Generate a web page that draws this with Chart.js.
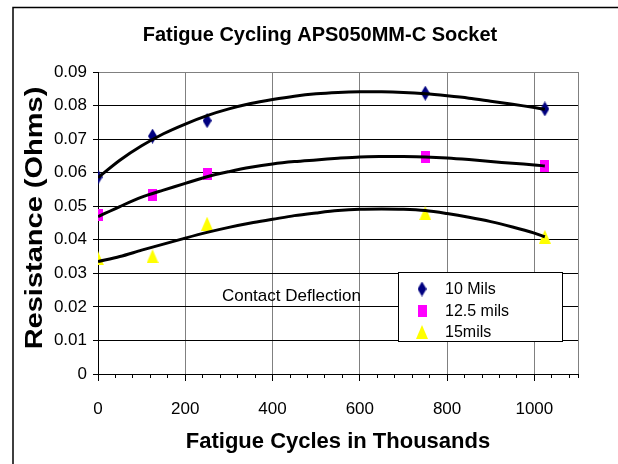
<!DOCTYPE html>
<html>
<head>
<meta charset="utf-8">
<script src="https://cdn.jsdelivr.net/npm/chart.js@4.4.1/dist/chart.umd.min.js"></script>
<style>
  html, body { margin: 0; padding: 0; background: #fff; }
  #wrap { width: 618px; height: 464px; }
</style>
</head>
<body>
<div id="wrap"><canvas id="fatigueChart" width="618" height="464"></canvas></div>
<script>
// measured points (fatigue cycles in thousands, resistance in ohms)
const cycles   = [0, 125, 250, 750, 1024];
const mils10   = [0.0587, 0.0709, 0.0755, 0.0837, 0.0790];
const mils125  = [0.0475, 0.0532, 0.0597, 0.0647, 0.0621];
const mils15   = [0.0345, 0.0351, 0.0448, 0.0479, 0.0409];

// trend lines
const trendCycles = [0, 50, 100, 150, 200, 250, 300, 350, 400, 450, 500, 550, 600, 650, 700, 750, 800, 850, 900, 950, 1000, 1024];
const trend10  = [0.0585, 0.0637, 0.0680, 0.0716, 0.0745, 0.0770, 0.0790, 0.0806, 0.0818, 0.0828, 0.0835, 0.0839, 0.0841, 0.0841, 0.0839, 0.0835, 0.0829, 0.0822, 0.0813, 0.0804, 0.0794, 0.0789];
const trend125 = [0.0469, 0.0499, 0.0527, 0.0548, 0.0568, 0.0588, 0.0603, 0.0616, 0.0626, 0.0633, 0.0638, 0.0643, 0.0647, 0.0648, 0.0648, 0.0647, 0.0644, 0.0639, 0.0633, 0.0628, 0.0623, 0.0620];
const trend15  = [0.0335, 0.0350, 0.0369, 0.0387, 0.0405, 0.0422, 0.0437, 0.0450, 0.0461, 0.0472, 0.0480, 0.0487, 0.0491, 0.0492, 0.0491, 0.0487, 0.0478, 0.0467, 0.0454, 0.0438, 0.0420, 0.0409];

const seriesNames = ['10 Mils', '12.5 mils', '15mils'];
const xTickValues = [0, 40, 80, 120, 160, 200, 240, 280, 320, 360, 400, 440, 480, 520, 560, 600, 640, 680, 720, 760, 800, 840, 880, 920, 960, 1000, 1040, 1080, 1100];

const SANS = "'Liberation Sans', Arial, sans-serif";

// marker images (Excel style: diamond, square, triangle)
function marker(w, h, color, shape) {
  const c = document.createElement('canvas');
  c.width = w; c.height = h;
  const g = c.getContext('2d');
  g.fillStyle = color;
  g.beginPath();
  if (shape === 'diamond') {
    g.moveTo(w / 2, 0); g.lineTo(w, h / 2); g.lineTo(w / 2, h); g.lineTo(0, h / 2);
  } else if (shape === 'triangle') {
    g.moveTo(w / 2, 0); g.lineTo(w, h); g.lineTo(0, h);
  } else {
    g.rect(0, 0, w, h);
  }
  g.closePath();
  g.fill();
  return c;
}
const markers = [
  marker(9, 15, '#000080', 'diamond'),
  marker(9, 12, '#ff00ff', 'square'),
  marker(12, 14, '#ffff00', 'triangle')
];

const pts = (xs, ys) => xs.map((x, i) => ({ x: x, y: ys[i] }));

function pointSet(label, ys, idx) {
  return {
    label: label,
    data: pts(cycles, ys),
    pointStyle: markers[idx],
    pointRadius: 7,
    showLine: false,
    order: 1
  };
}
function trendSet(ys) {
  return {
    label: 'trend',
    data: pts(trendCycles, ys),
    showLine: true,
    borderColor: '#000',
    borderWidth: 3,
    pointRadius: 0,
    tension: 0.3,
    order: 0
  };
}

// frame, title, rotated y title, text box and legend
const decorations = {
  id: 'decorations',
  beforeDraw(chart) {
    const ctx = chart.ctx;
    ctx.save();
    ctx.fillStyle = '#fff';
    ctx.fillRect(0, 0, chart.width, chart.height);
    ctx.strokeStyle = '#000';
    ctx.lineWidth = 1.5;
    ctx.strokeRect(13, 7.5, 700, 600);
    ctx.restore();
  },
  afterDraw(chart) {
    const ctx = chart.ctx;
    const xs = chart.scales.x, ys = chart.scales.y;
    const area = chart.chartArea;

    // chart title
    ctx.save();
    ctx.font = "bold 20px " + SANS;
    ctx.fillStyle = '#000';
    ctx.textAlign = 'center';
    ctx.textBaseline = 'middle';
    ctx.fillText('Fatigue Cycling APS050MM-C Socket', 320, 35);
    ctx.restore();

    // y axis title
    ctx.save();
    ctx.translate(36, 218);
    ctx.rotate(-Math.PI / 2);
    ctx.scale(1, 0.8);
    ctx.font = "bold 29px " + SANS;
    ctx.fillStyle = '#000';
    ctx.textAlign = 'center';
    ctx.textBaseline = 'middle';
    ctx.fillText('Resistance (Ohms)', 0, 0);
    ctx.restore();

    // text box
    ctx.save();
    ctx.font = "17px " + SANS;
    ctx.fillStyle = '#000';
    ctx.textBaseline = 'alphabetic';
    ctx.fillText('Contact Deflection', xs.getPixelForValue(284), ys.getPixelForValue(0.0218));
    ctx.restore();

    // legend
    const bx = area.left + 300, by = area.top + 200, bw = 164, bh = 69;
    ctx.save();
    ctx.fillStyle = '#fff';
    ctx.fillRect(bx, by, bw, bh);
    ctx.strokeStyle = '#000';
    ctx.lineWidth = 1;
    ctx.strokeRect(bx + 0.5, by + 0.5, bw, bh);
    ctx.font = "16px " + SANS;
    ctx.fillStyle = '#000';
    ctx.textBaseline = 'middle';
    seriesNames.forEach((name, i) => {
      const cy = by + 17 + i * 21.5;
      const m = markers[i];
      ctx.drawImage(m, bx + 24 - m.width / 2, cy - m.height / 2);
      ctx.fillText(name, bx + 47, cy + 1);
    });
    ctx.restore();
  }
};

new Chart(document.getElementById('fatigueChart'), {
  type: 'scatter',
  data: {
    datasets: [
      trendSet(trend10),
      trendSet(trend125),
      trendSet(trend15),
      pointSet(seriesNames[0], mils10, 0),
      pointSet(seriesNames[1], mils125, 1),
      pointSet(seriesNames[2], mils15, 2)
    ]
  },
  options: {
    responsive: false,
    animation: false,
    layout: { padding: { left: 10, right: 40, top: 72, bottom: 0 } },
    plugins: {
      legend: { display: false },
      tooltip: { enabled: false },
      title: { display: false }
    },
    scales: {
      x: {
        type: 'linear',
        min: 0,
        max: 1100,
        afterFit: s => { s.height = 90; },
        afterBuildTicks: s => { s.ticks = xTickValues.map(v => ({ value: v })); },
        ticks: {
          autoSkip: false,
          maxRotation: 0,
          padding: 18,
          color: '#000',
          font: { family: SANS, size: 17 },
          callback: v => (v % 200 === 0 ? String(v) : '')
        },
        grid: {
          color: c => (c.tick && (c.tick.value % 200 === 0 || c.tick.value === 1100)) ? '#808080' : 'rgba(0,0,0,0)',
          tickColor: '#000',
          tickLength: 7,
          tickBorderDash: c => (c.tick && c.tick.value % 200 === 0) ? [] : [3, 40]
        },
        border: { color: '#000', width: 1 },
        title: {
          display: true,
          text: 'Fatigue Cycles in Thousands',
          color: '#000',
          font: { family: SANS, size: 22, weight: 'bold', lineHeight: 1.2 },
          padding: { top: 0, bottom: 9 }
        }
      },
      y: {
        min: 0,
        max: 0.09,
        afterFit: s => { s.width = 88; },
        ticks: {
          stepSize: 0.01,
          padding: 6,
          color: '#000',
          font: { family: SANS, size: 17 },
          callback: v => (v === 0 ? '0' : v.toFixed(2))
        },
        grid: {
          color: c => (c.tick && c.tick.value > 0.0899) ? '#808080' : '#000',
          tickColor: '#000',
          tickLength: 5
        },
        border: { color: '#000', width: 1 }
      }
    }
  },
  plugins: [decorations]
});
</script>
</body>
</html>
